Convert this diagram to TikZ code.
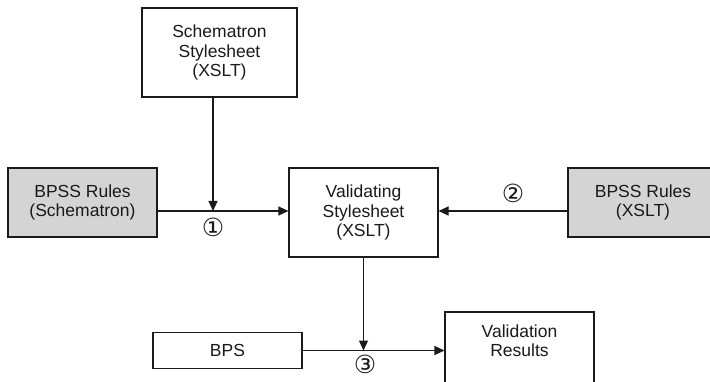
\documentclass[tikz,border=0pt]{standalone}
\usepackage{fontspec}
\setmainfont{Liberation Sans}
\newfontfamily\circfont{DejaVu Sans}
\usetikzlibrary{arrows.meta}
\definecolor{ruleshade}{HTML}{D4D4D4}
\definecolor{darkline}{HTML}{1A1A1A}
\tikzset{
  card/.style={rectangle, draw=darkline, line width=1.1pt, align=center, inner sep=0pt, minimum width=149pt, text=darkline, font=\fontsize{17.5pt}{19.5pt}\selectfont},
  sheet/.style={card, fill=white, minimum height=89pt},
  rules/.style={card, fill=ruleshade, minimum height=69pt},
  plain/.style={card, fill=white, minimum height=36pt},
  stepmark/.style={font=\circfont\fontsize{25pt}{25pt}\selectfont, inner sep=0pt, text=darkline},
  flow/.style={-{Triangle[length=10pt, width=9pt]}, line width=1.1pt, draw=darkline}
}

\begin{document}
\begin{tikzpicture}[x=1pt, y=-1pt]
\useasboundingbox (0,0) rectangle (710,382);

\node[sheet, minimum width=155pt] (schematron) at (219.5,52.5) {Schematron\\Stylesheet\\(XSLT)};
\node[rules] (bpssschema) at (82.5,202.5) {BPSS Rules\\(Schematron)};
\node[sheet] (validating) at (363.5,212.5) {Validating\\Stylesheet\\(XSLT)};
\node[rules, minimum width=150pt] (bpssxslt) at (643,202.5) {BPSS Rules\\(XSLT)};
\node[plain] (bps) at (227.5,350.5) {BPS};
\node[sheet, text depth=32pt] (results) at (519.5,356.5) {Validation\\Results};

% where the stylesheets meet the rule lines
\coordinate (join1) at (213,211);
\coordinate (join3) at (validating.south |- bps.east);

\draw[flow] (schematron.south -| join1) -- (join1);
\draw[flow] (bpssschema.east |- join1) -- (validating.west |- join1);
\draw[flow] (bpssxslt.west |- join1) -- (validating.east |- join1);
\draw[flow] (validating.south) -- (join3);
\draw[flow] (bps.east) -- (bps.east -| results.west);

% step numbers
\node[stepmark] (step1) at (213,227) {①};
\node[stepmark] (step2) at (513,193) {②};
\node[stepmark] (step3) at (365,364) {③};

\end{tikzpicture}
\end{document}
